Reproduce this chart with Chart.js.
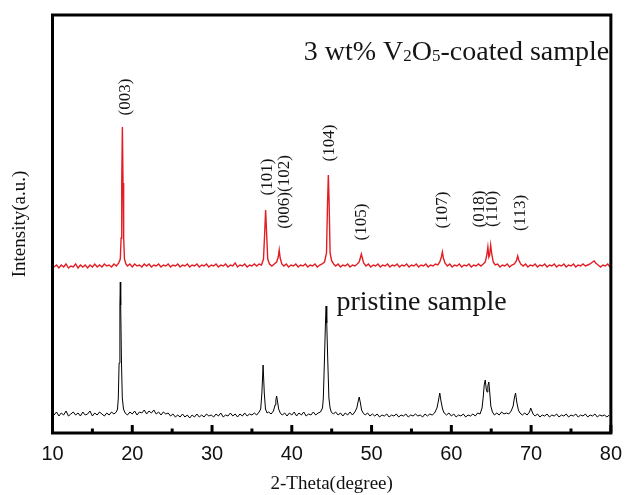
<!DOCTYPE html>
<html>
<head>
<meta charset="utf-8">
<script src="https://cdn.jsdelivr.net/npm/chart.js@4.4.1/dist/chart.umd.min.js"></script>
<style>
  html, body { margin: 0; padding: 0; background: #fff; }
  #wrap { width: 631px; height: 495px; }
</style>
</head>
<body>
<div id="wrap"><canvas id="c" width="631" height="495"></canvas></div>
<script>
// ---------- DATA ----------
// [2-Theta (degree), intensity (a.u.)].
const pristinePattern = [
 [10.2,18],[10.5,21],[10.8,17],[11.1,20],[11.4,18],[11.7,22],[12.0,17],[12.3,19],[12.6,21],[12.9,18],[13.2,20],[13.5,17],[13.8,21],[14.1,18],[14.4,19],[14.7,22],[15.0,17],[15.3,20],[15.6,18],[15.9,21],[16.2,19],[16.5,17],[16.8,20],[17.1,18],[17.4,21],[17.7,19],
 [18.0,21],[18.15,24],[18.25,35],[18.35,70],[18.45,128],[18.5,151],[18.55,128],[18.65,70],[18.75,35],[18.9,24],
 [19.1,20],[19.4,18],[19.7,21],[20.0,19],[20.3,22],[20.6,18],[20.9,21],[21.2,20],[21.5,23],[21.8,19],[22.1,22],[22.4,20],[22.7,23],[23.0,19],[23.3,21],[23.6,18],[23.9,21],[24.2,19],[24.5,20],[24.8,17],[25.1,19],[25.4,16],[25.7,18],[26.0,16],[26.3,19],[26.6,16],[26.9,18],[27.2,15],[27.5,18],[27.8,16],[28.1,19],[28.4,16],[28.7,18],[29.0,16],[29.3,19],[29.6,17],[29.9,18],[30.2,16],[30.5,19],[30.8,17],[31.1,20],[31.4,16],[31.7,18],[32.0,17],[32.3,20],[32.6,17],[32.9,19],[33.2,16],[33.5,19],[33.8,17],[34.1,20],[34.4,17],[34.7,19],[35.0,18],[35.3,20],[35.6,18],[35.9,21],
 [36.1,24],[36.25,40],[36.4,68],[36.55,40],[36.7,24],[36.9,20],
 [37.1,21],[37.4,19],[37.7,22],[37.9,28],[38.0,33],[38.1,37],[38.2,32],[38.35,24],[38.55,20],
 [38.8,18],[39.1,20],[39.4,17],[39.7,20],[40.0,18],[40.3,21],[40.6,17],[40.9,20],[41.2,18],[41.5,21],[41.8,17],[42.1,19],[42.4,18],[42.7,21],[43.0,18],[43.3,20],[43.6,21],
 [43.85,25],[43.95,35],[44.1,75],[44.22,110],[44.3,127],[44.38,110],[44.5,75],[44.65,35],[44.8,25],[44.95,21],
 [45.2,19],[45.5,21],[45.8,18],[46.1,20],[46.4,17],[46.7,20],[47.0,18],[47.3,21],[47.6,18],[47.9,21],
 [48.15,25],[48.3,31],[48.45,36],[48.6,30],[48.75,23],[48.95,20],
 [49.2,18],[49.5,20],[49.8,17],[50.1,19],[50.4,17],[50.7,19],[51.0,16],[51.3,18],[51.6,17],[51.9,19],[52.2,16],[52.5,18],[52.8,17],[53.1,19],[53.4,16],[53.7,18],[54.0,17],[54.3,19],[54.6,16],[54.9,18],[55.2,17],[55.5,19],[55.8,17],[56.1,18],[56.4,16],[56.7,19],[57.0,17],[57.3,19],[57.6,18],[57.9,20],
 [58.2,25],[58.4,33],[58.55,40],[58.7,32],[58.9,24],[59.1,20],
 [59.4,18],[59.7,20],[60.0,17],[60.3,19],[60.6,16],[60.9,18],[61.2,17],[61.5,19],[61.8,16],[62.1,18],[62.4,17],[62.7,19],[63.0,17],[63.3,20],[63.6,19],
 [63.85,25],[64.0,36],[64.12,48],[64.25,53],[64.38,44],[64.48,41],[64.58,47],[64.7,51],[64.82,40],[64.95,27],[65.15,21],
 [65.4,18],[65.7,20],[66.0,18],[66.3,21],[66.6,19],[66.9,20],[67.2,19],[67.5,22],
 [67.75,27],[67.9,35],[68.05,40],[68.2,31],[68.4,23],[68.6,20],
 [68.9,18],[69.2,20],[69.5,18],[69.8,21],[69.95,25],[70.05,23],[70.25,19],
 [70.5,17],[70.8,19],[71.1,16],[71.4,18],[71.7,17],[72.0,19],[72.3,16],[72.6,18],[72.9,17],[73.2,19],[73.5,16],[73.8,18],[74.1,17],[74.4,19],[74.7,16],[75.0,18],[75.3,17],[75.6,19],[75.9,16],[76.2,18],[76.5,17],[76.8,19],[77.1,16],[77.4,18],[77.7,17],[78.0,19],[78.3,16],[78.6,18],[78.9,17],[79.2,18],[79.5,16],[79.8,18]
];

const coatedPattern = [
 [10.2,166],[10.5,168],[10.8,165],[11.1,168],[11.4,166],[11.7,169],[12.0,165],[12.3,167],[12.6,166],[12.9,169],[13.2,165],[13.5,168],[13.8,166],[14.1,168],[14.4,165],[14.7,168],[15.0,166],[15.3,169],[15.6,166],[15.9,168],[16.2,166],[16.5,169],[16.8,167],[17.1,168],[17.4,166],[17.7,169],[18.0,167],[18.3,170],
 [18.5,174],[18.6,195],[18.68,250],[18.76,306],[18.84,250],[18.92,195],[19.02,174],[19.2,169],
 [19.4,167],[19.7,169],[20.0,166],[20.3,169],[20.6,167],[20.9,168],[21.2,166],[21.5,169],[21.8,167],[22.1,169],[22.4,166],[22.7,168],[23.0,167],[23.3,169],[23.6,166],[23.9,168],[24.2,167],[24.5,169],[24.8,166],[25.1,168],[25.4,167],[25.7,169],[26.0,166],[26.3,168],[26.6,167],[26.9,169],[27.2,166],[27.5,168],[27.8,167],[28.1,169],[28.4,166],[28.7,168],[29.0,167],[29.3,169],[29.6,166],[29.9,168],[30.2,167],[30.5,169],[30.8,166],[31.1,168],[31.4,167],[31.7,169],[32.0,166],[32.3,168],[32.6,167],[32.9,170],[33.2,166],[33.5,168],[33.8,167],[34.1,169],[34.4,166],[34.7,168],[35.0,167],[35.3,169],[35.6,167],[35.9,169],[36.2,168],
 [36.45,174],[36.6,200],[36.72,223],[36.84,200],[36.98,174],[37.2,169],
 [37.5,167],[37.8,169],[38.1,171],[38.3,176],[38.42,183],[38.54,175],[38.75,169],
 [39.0,167],[39.3,169],[39.6,166],[39.9,168],[40.2,167],[40.5,169],[40.8,166],[41.1,168],[41.4,167],[41.7,169],[42.0,166],[42.3,168],[42.6,167],[42.9,169],[43.2,166],[43.5,168],[43.8,169],[44.1,171],
 [44.35,180],[44.48,230],[44.58,258],[44.68,230],[44.8,180],[45.0,172],[45.25,169],
 [45.5,167],[45.8,169],[46.1,166],[46.4,168],[46.7,167],[47.0,169],[47.3,166],[47.6,168],[47.9,167],[48.2,169],[48.45,171],
 [48.62,176],[48.72,179],[48.84,175],[49.0,170],
 [49.3,167],[49.6,169],[49.9,166],[50.2,168],[50.5,167],[50.8,169],[51.1,166],[51.4,168],[51.7,167],[52.0,169],[52.3,166],[52.6,168],[52.9,167],[53.2,169],[53.5,166],[53.8,168],[54.1,167],[54.4,169],[54.7,166],[55.0,168],[55.3,167],[55.6,169],[55.9,166],[56.2,168],[56.5,167],[56.8,169],[57.1,166],[57.4,168],[57.7,167],[58.0,169],[58.3,168],[58.55,171],
 [58.75,176],[58.88,181],[59.0,175],[59.2,170],
 [59.5,167],[59.8,169],[60.1,166],[60.4,168],[60.7,167],[61.0,169],[61.3,166],[61.6,168],[61.9,167],[62.2,169],[62.5,166],[62.8,168],[63.1,167],[63.4,169],[63.7,167],[64.0,169],[64.25,171],
 [64.45,178],[64.58,186],[64.7,176],[64.8,178],[64.93,188],[65.05,180],[65.25,171],
 [65.5,168],[65.8,169],[66.1,166],[66.4,168],[66.7,167],[67.0,169],[67.3,166],[67.6,168],[67.9,169],
 [68.15,172],[68.32,177],[68.45,173],[68.7,169],
 [69.0,167],[69.3,169],[69.6,166],[69.9,168],[70.2,167],[70.5,169],[70.8,166],[71.1,168],[71.4,167],[71.7,169],[72.0,166],[72.3,168],[72.6,167],[72.9,169],[73.2,166],[73.5,168],[73.8,167],[74.1,169],[74.4,166],[74.7,168],[75.0,167],[75.3,169],[75.6,166],[75.9,168],[76.2,167],[76.5,169],[76.8,167],[77.1,168],[77.4,169],[77.7,171],[77.9,172],[78.1,170],[78.4,168],[78.7,166],[79.0,168],[79.3,167],[79.6,169],[79.9,166]
];

// Miller-index labels: text, 2-Theta position, height (a.u.)
const hklText  = ['(003)','(101)','(006)(102)','(104)','(105)','(107)','(018)','(110)','(113)'];
const hklTheta = [19.2, 36.9, 39.1, 44.7, 48.7, 58.9, 63.5, 65.2, 68.7];
const hklY     = [336, 256, 241, 290, 211, 223, 224, 224, 220];

// Sample names: text pieces, subscript flags, 2-Theta start, height (a.u.)
const coatedName   = ['3 wt% V','2','O','5','-coated sample'];
const coatedSub    = [false,true,false,true,false];
const pristineName = ['pristine sample'];
const pristineSub  = [false];
const nameTheta = [41.5, 45.6];
const nameY     = [373, 123];

const xTicks = [10,20,30,40,50,60,70,80];
const xMinorTicks = [15,25,35,45,55,65,75];

// ---------- CHART ----------
const toPts = arr => arr.map(p => ({x: p[0], y: p[1]}));

const decor = {
  id: 'decor',
  afterDatasetsDraw(chart) {
    const {ctx, chartArea: a, scales: {x, y}} = chart;
    ctx.save();
    ctx.fillStyle = '#151515';
    ctx.font = '17px "Liberation Serif", "Times New Roman", serif';
    ctx.textAlign = 'center';
    ctx.textBaseline = 'middle';
    hklText.forEach((t, i) => {
      ctx.save();
      ctx.translate(x.getPixelForValue(hklTheta[i]), y.getPixelForValue(hklY[i]));
      ctx.rotate(-Math.PI / 2);
      ctx.fillText(t, 0, 0);
      ctx.restore();
    });
    ctx.textAlign = 'left';
    ctx.textBaseline = 'alphabetic';
    const drawName = (parts, subs, i) => {
      let px = x.getPixelForValue(nameTheta[i]);
      const py = y.getPixelForValue(nameY[i]);
      parts.forEach((p, k) => {
        ctx.font = (subs[k] ? '17px' : '28px') + ' "Liberation Serif", "Times New Roman", serif';
        ctx.fillText(p, px, py + (subs[k] ? 1 : 0));
        px += ctx.measureText(p).width;
      });
    };
    drawName(coatedName, coatedSub, 0);
    drawName(pristineName, pristineSub, 1);
    ctx.lineWidth = 3;
    ctx.strokeStyle = '#000';
    ctx.strokeRect(a.left, a.top, a.right - a.left, a.bottom - a.top);
    ctx.fillStyle = '#000';
    xTicks.forEach(v => { const p = x.getPixelForValue(v); ctx.fillRect(p - 1.5, a.bottom - 8, 3, 8); });
    xMinorTicks.forEach(v => { const p = x.getPixelForValue(v); ctx.fillRect(p - 1.5, a.bottom - 4.5, 3, 4.5); });
    ctx.restore();
  }
};

new Chart(document.getElementById('c'), {
  type: 'line',
  data: {
    datasets: [
      { label: '3 wt% V2O5-coated sample', data: toPts(coatedPattern),
        borderColor: 'rgb(226,30,36)', borderWidth: 1.4, pointRadius: 0, tension: 0, fill: false },
      { label: 'pristine sample', data: toPts(pristinePattern),
        borderColor: '#000', borderWidth: 1, pointRadius: 0, tension: 0, fill: false }
    ]
  },
  options: {
    responsive: false,
    animation: false,
    events: [],
    layout: { padding: { left: 0, right: 16.5, top: 15, bottom: 0 } },
    plugins: { legend: { display: false }, tooltip: { enabled: false } },
    scales: {
      x: {
        type: 'linear', min: 10, max: 80,
        afterBuildTicks: s => { s.ticks = xTicks.map(v => ({value: v})); },
        ticks: { color: '#111', font: { family: '"Liberation Sans", Arial, sans-serif', size: 20 }, padding: 9, maxRotation: 0 },
        grid: { display: false, drawTicks: false },
        border: { display: false },
        title: { display: true, text: '2-Theta(degree)', color: '#111',
                 font: { family: '"Liberation Serif", "Times New Roman", serif', size: 19 }, padding: { top: 0, bottom: 0 } },
        afterFit: s => { s.height = 62; }
      },
      y: {
        type: 'linear', min: 0, max: 418,
        ticks: { display: false },
        grid: { display: false, drawTicks: false },
        border: { display: false },
        title: { display: true, text: 'Intensity(a.u.)', color: '#111',
                 font: { family: '"Liberation Serif", "Times New Roman", serif', size: 19 }, padding: { top: 9, bottom: 0 } },
        afterFit: s => { s.width = 52.5; }
      }
    }
  },
  plugins: [decor]
});
</script>
</body>
</html>
